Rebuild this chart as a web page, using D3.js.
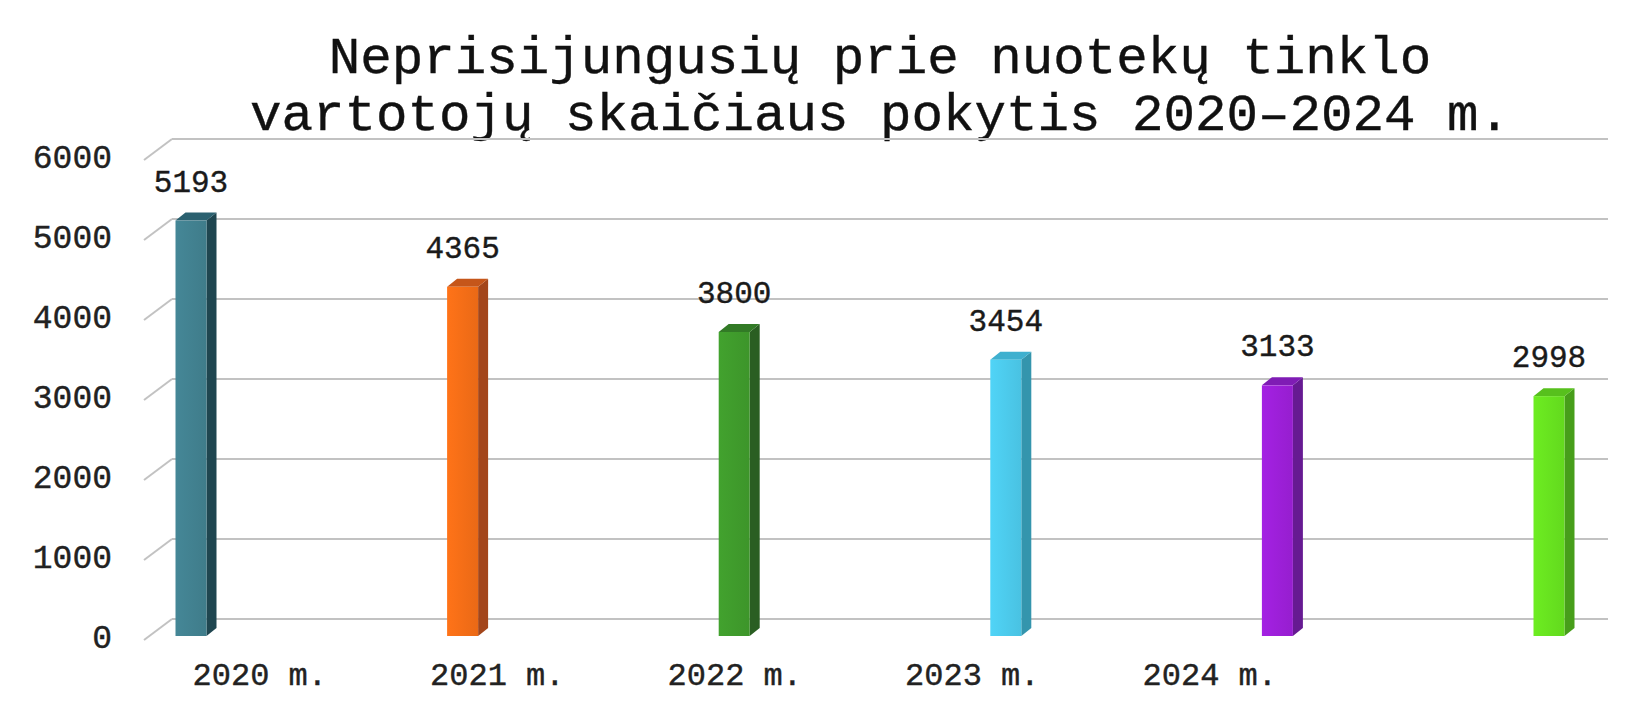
<!DOCTYPE html>
<html>
<head>
<meta charset="utf-8">
<script src="https://cdn.jsdelivr.net/npm/d3@7"></script>
<style>
  html, body { margin: 0; padding: 0; background: #ffffff; }
  svg { display: block; }
  text { font-family: "Liberation Mono", "DejaVu Sans Mono", monospace; stroke: currentColor; stroke-width: 0.4px; }
</style>
</head>
<body>
<svg id="chart" width="1644" height="720"></svg>
<script>
// Chart data
const titleLines = ["Neprisijungusių prie nuotekų tinklo", "vartotojų skaičiaus pokytis 2020–2024 m."];
const categories = ["2020 m.", "2021 m.", "2022 m.", "2023 m.", "2024 m.", ""];
const values = [5193, 4365, 3800, 3454, 3133, 2998];
const yTicks = [0, 1000, 2000, 3000, 4000, 5000, 6000];
const frontColors = ["#41808f", "#f26d17", "#3f9a2c", "#4cc9ea", "#9b1fd7", "#67e11f"];
const sideColors  = ["#1f4650", "#a3461b", "#2a5e22", "#3495ad", "#661a92", "#479e1a"];
const topColors   = ["#2b6170", "#c5561a", "#327a26", "#3fb0cf", "#7f1cb5", "#57c01d"];

const svg = d3.select("#chart");

// 3D floor geometry: back wall vs. front edge offset
const depthX = 28, depthY = 21;
const barDepthX = 10, barDepthY = 8;
const barW = 31;

const yBack = d3.scaleLinear().domain([0, 6000]).range([619, 139]);
const yFront = d3.scaleLinear().domain([0, 6000]).range([619 + depthY, 139 + depthY]);
const yBar = d3.scaleLinear().domain([0, 6000]).range([636, 156]);

const xBar = d3.scalePoint().domain(d3.range(values.length)).range([191, 1549]);
const xLabel = d3.scaleBand().domain(categories).range([141, 1566]);

// Title
svg.append("g")
  .selectAll("text")
  .data(titleLines)
  .join("text")
  .attr("x", 880)
  .attr("y", (d, i) => 73 + i * 57)
  .attr("text-anchor", "middle")
  .attr("font-size", 52.5)
  .attr("fill", "#111")
  .style("color", "#111")
  .text(d => d);

// Grid: back horizontal lines with diagonal floor/side edges
const grid = svg.append("g").attr("stroke", "#c2c2c2").attr("stroke-width", 2).attr("fill", "none");
grid.selectAll("line.h")
  .data(yTicks)
  .join("line")
  .attr("class", "h")
  .attr("x1", 144 + depthX).attr("x2", 1608)
  .attr("y1", d => yBack(d)).attr("y2", d => yBack(d));
grid.selectAll("line.d")
  .data(yTicks)
  .join("line")
  .attr("class", "d")
  .attr("x1", 144).attr("y1", d => yFront(d))
  .attr("x2", 144 + depthX).attr("y2", d => yBack(d));

// Y axis labels at the front edge
const yAxis = svg.append("g")
  .attr("transform", "translate(112,-3)")
  .call(d3.axisLeft(yFront).tickValues(yTicks).tickSize(0).tickPadding(0).tickFormat(d3.format("d")));
yAxis.select(".domain").remove();
yAxis.selectAll("text")
  .attr("font-family", "Liberation Mono, monospace")
  .attr("font-size", 33)
  .attr("fill", "#222")
  .style("color", "#222");

// X axis labels
const xAxis = svg.append("g")
  .attr("transform", "translate(0,661)")
  .call(d3.axisBottom(xLabel).tickSize(0).tickPadding(0));
xAxis.select(".domain").remove();
xAxis.selectAll("text")
  .attr("font-family", "Liberation Mono, monospace")
  .attr("font-size", 32)
  .attr("fill", "#222")
  .style("color", "#222")
  .attr("dy", "0.75em");

// Front-face shading
const defs = svg.append("defs");
frontColors.forEach((c, i) => {
  const g = defs.append("linearGradient").attr("id", "fg" + i).attr("x1", 0).attr("x2", 1).attr("y1", 0).attr("y2", 0);
  g.append("stop").attr("offset", "0%").attr("stop-color", d3.color(c).brighter(0.15));
  g.append("stop").attr("offset", "100%").attr("stop-color", d3.color(c).darker(0.1));
});

// Bars drawn as small 3D columns
const bars = svg.append("g")
  .selectAll("g.bar")
  .data(values)
  .join("g")
  .attr("class", "bar");

bars.each(function (v, i) {
  const g = d3.select(this);
  const x0 = xBar(i) - barW / 2, x1 = x0 + barW;
  const yt = yBar(v), yb = yBar(0);
  // side face
  g.append("path")
    .attr("d", `M${x1},${yt}L${x1 + barDepthX},${yt - barDepthY}L${x1 + barDepthX},${yb - barDepthY}L${x1},${yb}Z`)
    .attr("fill", sideColors[i]);
  // top face
  g.append("path")
    .attr("d", `M${x0},${yt}L${x0 + barDepthX},${yt - barDepthY}L${x1 + barDepthX},${yt - barDepthY}L${x1},${yt}Z`)
    .attr("fill", topColors[i]);
  // front face
  g.append("rect")
    .attr("x", x0).attr("y", yt)
    .attr("width", barW).attr("height", yb - yt)
    .attr("fill", `url(#fg${i})`);
});

// Value labels
svg.append("g")
  .selectAll("text")
  .data(values)
  .join("text")
  .attr("x", (d, i) => xBar(i))
  .attr("y", d => yBar(d) - barDepthY - 21)
  .attr("text-anchor", "middle")
  .attr("font-size", 31)
  .attr("fill", "#1a1a1a")
  .style("color", "#1a1a1a")
  .text(d => d);
</script>
</body>
</html>
